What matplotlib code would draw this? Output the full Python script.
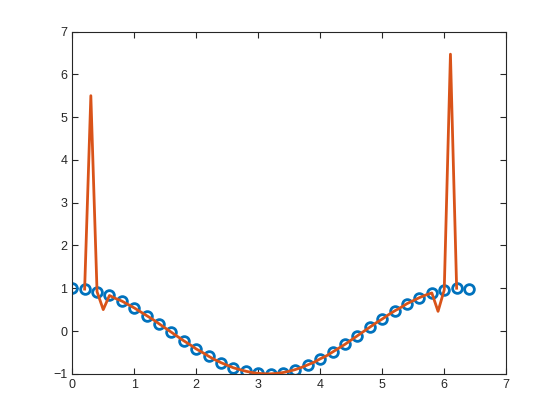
import numpy as np
import matplotlib
matplotlib.use("Agg")
import matplotlib.pyplot as plt

plt.rcParams['font.family'] = ['Liberation Sans', 'DejaVu Sans']

# sampled points (circles)
x_pts = np.round(np.arange(0, 6.41, 0.2), 1)
y_pts = [1.00, 0.98, 0.92, 0.83, 0.70, 0.54, 0.36, 0.17, -0.03, -0.23,
         -0.42, -0.59, -0.74, -0.86, -0.94, -0.99, -1.00, -0.97, -0.90, -0.79,
         -0.65, -0.49, -0.31, -0.11, 0.09, 0.28, 0.47, 0.64, 0.78, 0.89,
         0.96, 1.00, 0.99]

# orange line with outliers
x_line = np.round(np.arange(0.2, 6.21, 0.1), 1)
y_line = [0.98, 5.50, 0.92, 0.50, 0.83, 0.76, 0.70, 0.62, 0.54, 0.45,
          0.36, 0.27, 0.17, 0.07, -0.03, -0.13, -0.23, -0.32, -0.42, -0.50,
          -0.59, -0.67, -0.74, -0.80, -0.86, -0.90, -0.94, -0.97, -0.99, -1.00,
          -1.00, -0.99, -0.97, -0.94, -0.90, -0.85, -0.79, -0.73, -0.65, -0.58,
          -0.49, -0.40, -0.31, -0.21, -0.11, -0.01, 0.09, 0.19, 0.28, 0.38,
          0.47, 0.55, 0.64, 0.71, 0.78, 0.84, 0.89, 0.46, 0.96, 6.47, 1.00]

fig = plt.figure(figsize=(5.6, 4.2), dpi=100)
ax = fig.add_axes([0.129, 0.11, 0.775, 0.815])

ax.plot(x_pts, y_pts, 'o', color='#0072BD', markerfacecolor='none',
        markersize=7, markeredgewidth=2, zorder=2)
ax.plot(x_line, y_line, '-', color='#D95319', linewidth=2, zorder=3)

ax.set_xlim(0, 7)
ax.set_ylim(-1, 7)
ax.set_xticks(range(0, 8))
ax.set_yticks(range(-1, 8))
for s in ax.spines.values():
    s.set_color('#262626')
    s.set_linewidth(0.8)
ax.tick_params(direction='in', top=True, right=True, length=4, width=0.8,
               colors='#262626', labelsize=9, labelcolor='#262626')

fig.savefig('out.png', dpi=100)
